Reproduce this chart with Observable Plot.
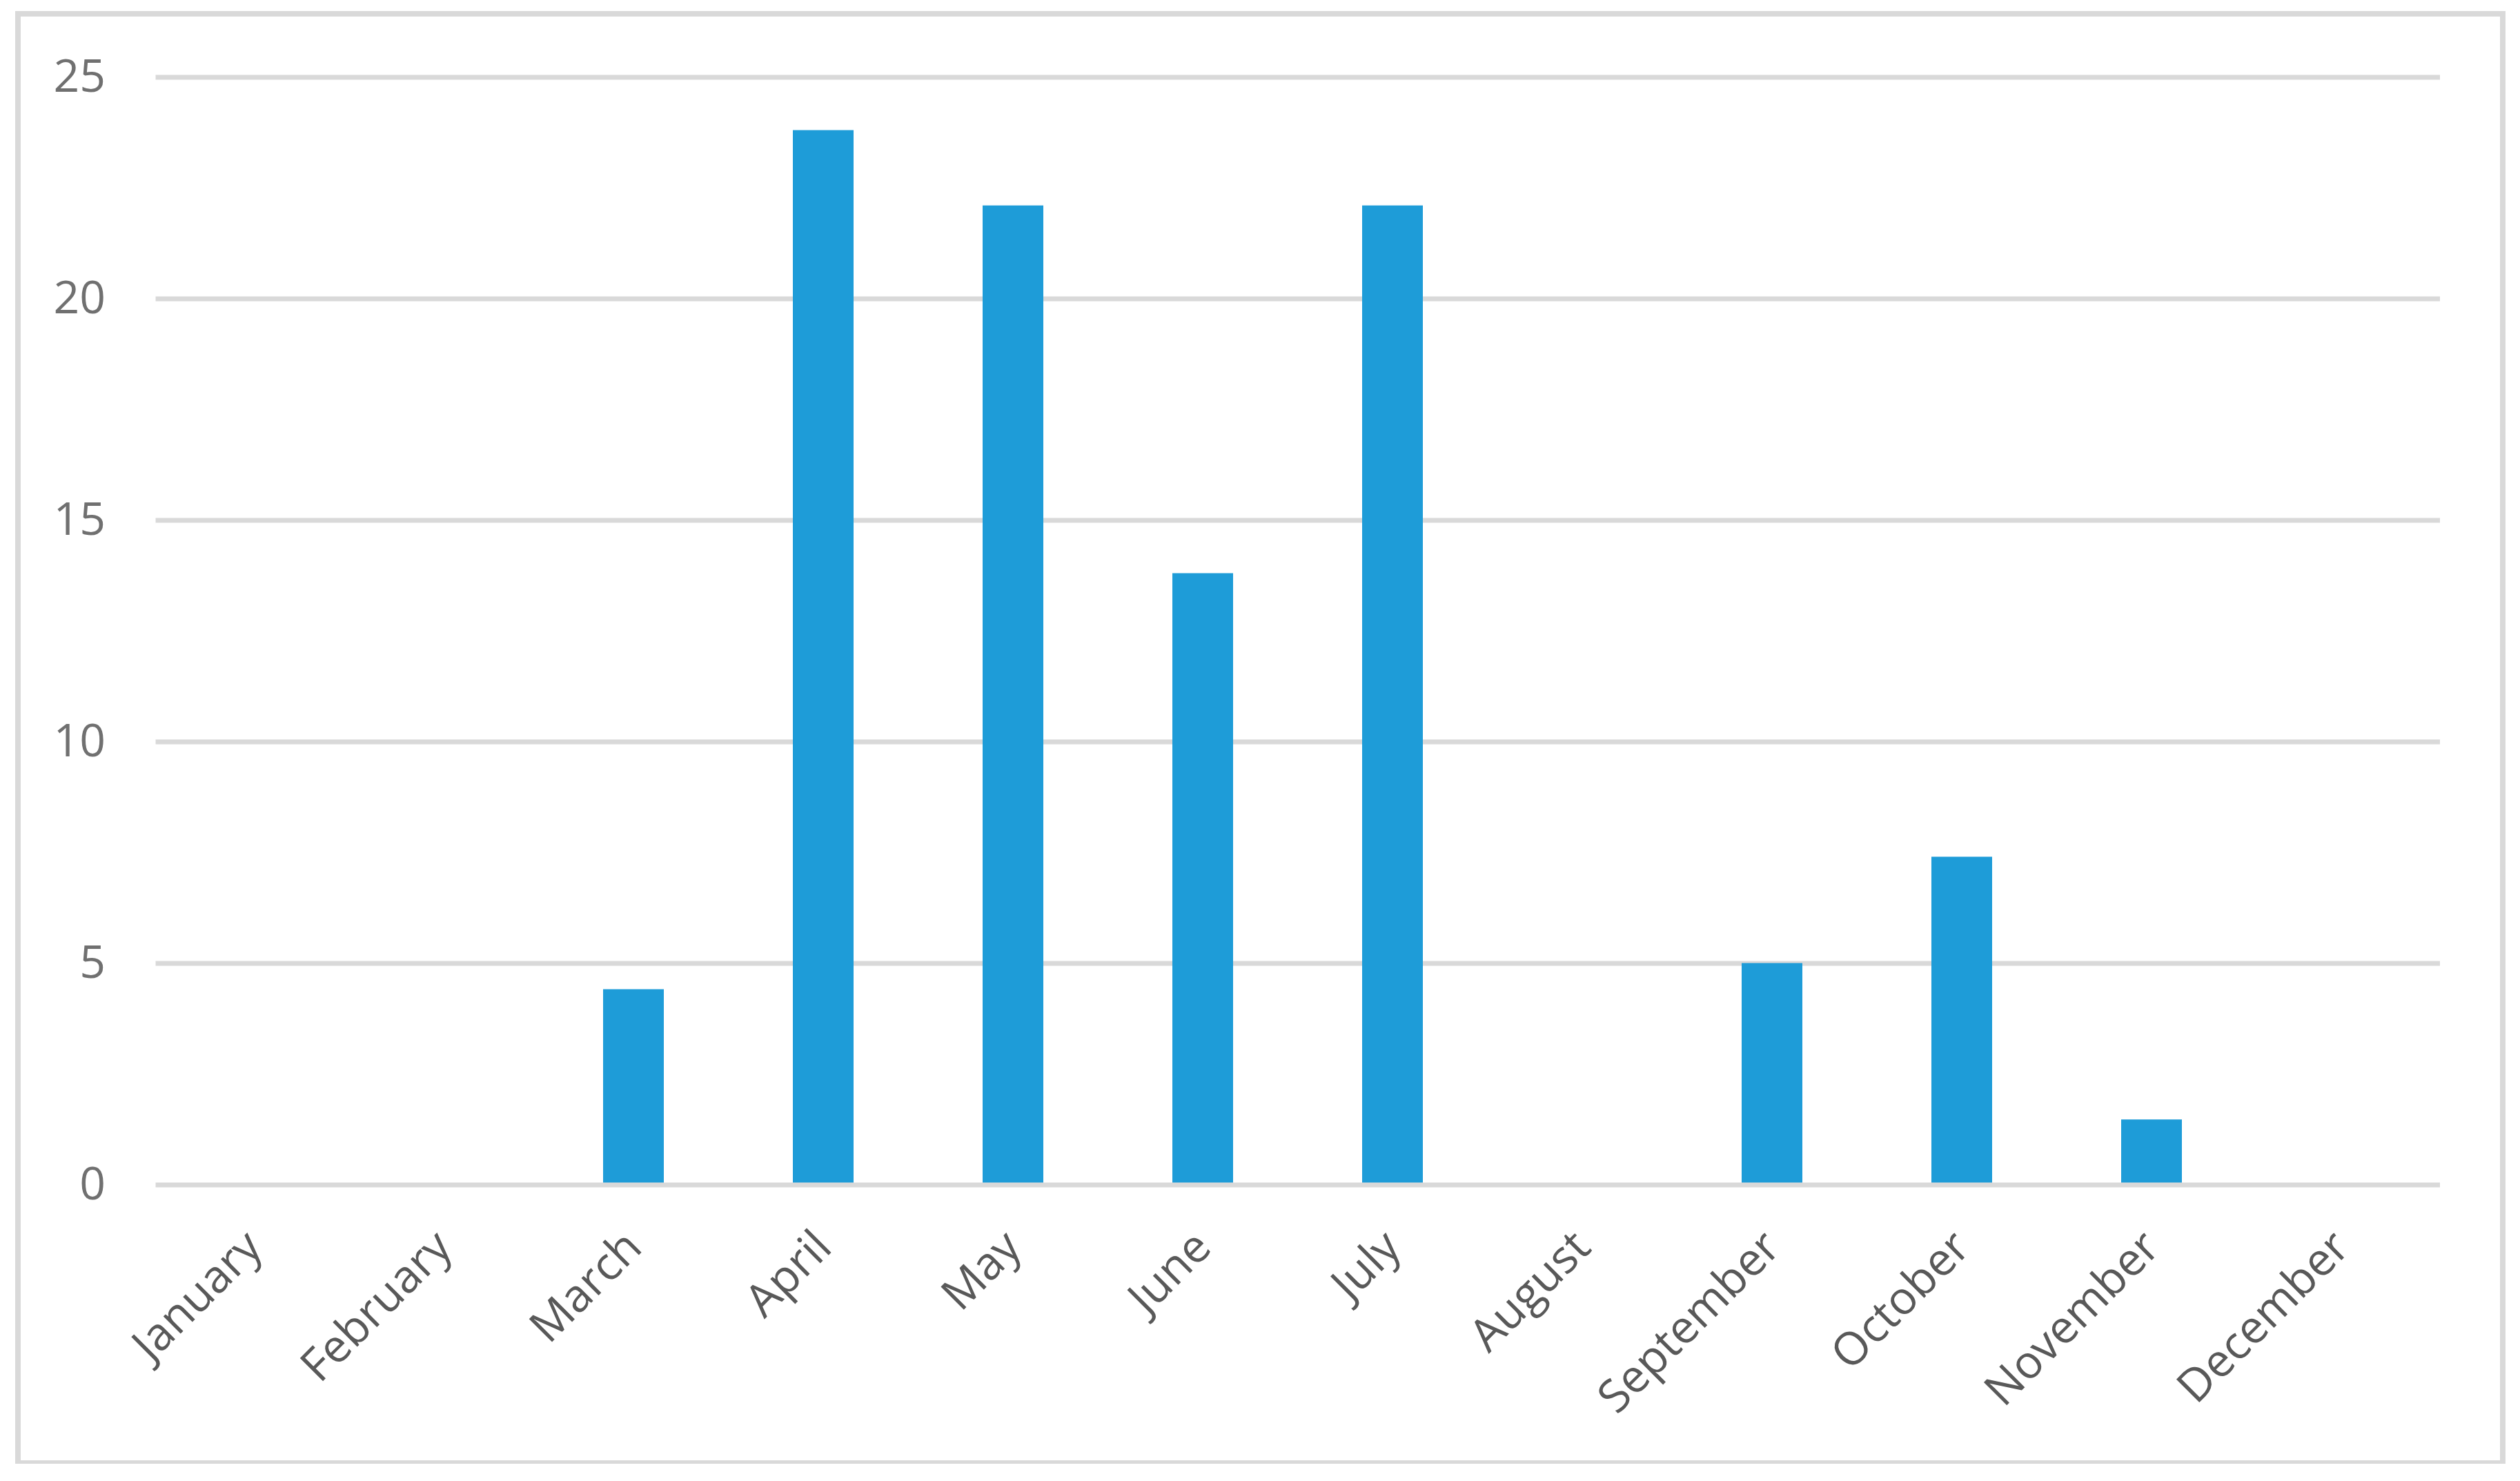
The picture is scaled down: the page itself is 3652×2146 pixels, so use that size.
<!DOCTYPE html>
<html>
<head>
<meta charset="utf-8">
<script src="https://cdn.jsdelivr.net/npm/d3@7"></script>
<script src="https://cdn.jsdelivr.net/npm/@observablehq/plot@0.6"></script>
<style>
  html, body { margin: 0; padding: 0; background: #ffffff; }
  #wrap { position: relative; width: 3652px; height: 2146px; overflow: hidden; background: #ffffff; }
  #frame { position: absolute; left: 22px; top: 16px; width: 3609px; height: 2105px; box-sizing: border-box;
           border: 8px solid #d9d9d9; border-bottom-width: 5px; pointer-events: none; }
  #chart svg { display: block; }
</style>
</head>
<body>
<div id="wrap">
  <div id="chart"></div>
  <div id="frame"></div>
</div>
<script>
const months = ["January", "February", "March", "April", "May", "June", "July", "August", "September", "October", "November", "December"];
const values = [0, 0, 4.41, 23.8, 22.1, 13.8, 22.1, 0, 5.0, 7.4, 1.47, 0];
const yTicks = [0, 5, 10, 15, 20, 25];

const data = months.map((m, i) => ({month: m, value: values[i]}));

const chart = Plot.plot({
  width: 3652,
  height: 2146,
  marginLeft: 225.5,
  marginRight: 116,
  marginTop: 111.5,
  marginBottom: 429.5,
  style: {fontFamily: "'Open Sans', 'DejaVu Sans', sans-serif", fontSize: "66px", background: "transparent", overflow: "visible"},
  x: {domain: months, paddingInner: 0.681, paddingOuter: 0.3405, label: null},
  y: {domain: [0, 25], label: null},
  marks: [
    Plot.ruleY(yTicks.filter(d => d > 0), {stroke: "#d9d9d9", strokeWidth: 7}),
    Plot.barY(data, {x: "month", y: "value", fill: "#1e9cd8"}),
    Plot.ruleY([0], {stroke: "#d9d9d9", strokeWidth: 7}),
    Plot.axisY(yTicks, {tickSize: 0, tickPadding: 73, tickFormat: d3.format("d"), color: "#707070", label: null}),
    Plot.axisX({tickSize: 0, tickPadding: 79, tickRotate: -45, color: "#595959", label: null})
  ]
});
document.getElementById("chart").appendChild(chart);
</script>
</body>
</html>
